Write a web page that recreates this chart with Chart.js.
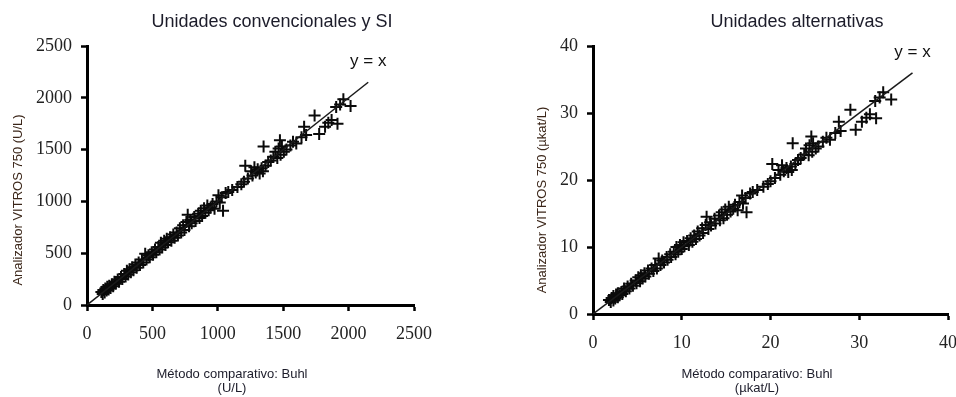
<!DOCTYPE html>
<html>
<head>
<meta charset="utf-8">
<script src="https://cdn.jsdelivr.net/npm/chart.js@4.4.1/dist/chart.umd.min.js"></script>
<style>
  body { margin: 0; background: #fff; }
  .fila { display: flex; width: 956px; height: 397px; }
  canvas { display: block; }
</style>
</head>
<body>
<div class="fila">
  <canvas id="graficoConv" width="478" height="397"></canvas>
  <canvas id="graficoAlt" width="478" height="397"></canvas>
</div>
<script>
// Unidades convencionales y SI (U/L)
const convX = [110,120,125,135,140,150,155,165,170,180,190,200,210,220,235,245,260,270,285,295,
  305,315,325,335,345,355,370,380,395,405,420,430,445,455,470,480,495,505,520,530,
  545,555,565,575,590,600,610,620,635,645,660,670,685,695,710,720,735,745,760,770,
  780,790,800,820,830,850,860,870,880,895,905,920,930,945,960,975,990,1005,1015,1030,
  1040,1060,1080,1110,1150,1180,1200,1210,1230,1255,1265,1280,1290,1305,1320,1335,1345,1350,1365,1385,
  1405,1425,1440,1455,1465,1475,1480,1490,1505,1525,1555,1575,1600,1640,1660,1675,1740,1775,1820,1845,
  1870,1905,1915,1935,1960,2015];
const convY = [125,105,145,120,160,140,175,150,185,165,200,180,225,205,245,225,270,250,300,275,
  330,295,345,315,365,335,390,360,410,385,440,410,495,440,480,460,510,485,535,510,
  560,535,600,555,620,580,640,605,655,620,680,650,700,670,740,700,770,725,800,870,
  760,820,790,850,810,880,840,910,860,935,890,960,915,940,975,930,1000,1060,990,1040,
  910,1080,1090,1110,1140,1165,1190,1345,1220,1290,1250,1330,1280,1310,1270,1320,1290,1530,1345,1380,
  1395,1430,1480,1420,1510,1590,1450,1530,1480,1500,1540,1575,1560,1620,1720,1640,1830,1650,1720,1760,
  1785,1910,1750,1935,1985,1920];
const convTicks = [0, 500, 1000, 1500, 2000, 2500];
const convLinea = [0, 2150];

// Unidades alternativas (µkat/L)
const altX = [1.8,2.0,2.1,2.3,2.3,2.5,2.6,2.8,2.8,3.0,3.2,3.3,3.5,3.7,3.9,4.1,4.3,4.5,4.8,4.9,
  5.1,5.3,5.4,5.6,5.8,5.9,6.2,6.3,6.6,6.8,7.0,7.2,7.4,7.6,7.8,8.0,8.3,8.4,8.7,8.8,
  9.1,9.3,9.4,9.6,9.8,10.0,10.2,10.3,10.6,10.8,11.0,11.2,11.4,11.6,11.8,12.0,12.3,12.4,12.7,12.8,
  13.0,13.2,13.3,13.7,13.8,14.2,14.3,14.5,14.7,14.9,15.1,15.3,15.5,15.8,16.0,16.3,16.5,16.8,16.9,17.2,
  17.3,17.7,18.0,18.5,19.2,19.7,20.0,20.2,20.5,20.9,21.1,21.3,21.5,21.8,22.0,22.3,22.4,22.5,22.8,23.1,
  23.4,23.8,24.0,24.3,24.4,24.6,24.7,24.8,25.1,25.4,25.9,26.3,26.7,27.3,27.7,27.9,29.0,29.6,30.3,30.8,
  31.2,31.8,31.9,32.3,32.7,33.6];
const altY = [2.1,1.8,2.4,2.0,2.7,2.3,2.9,2.5,3.1,2.8,3.3,3.0,3.8,3.4,4.1,3.8,4.5,4.2,5.0,4.6,
  5.5,4.9,5.8,5.3,6.1,5.6,6.5,6.0,6.8,6.4,7.3,6.8,8.3,7.3,8.0,7.7,8.5,8.1,8.9,8.5,
  9.3,8.9,10.0,9.3,10.3,9.7,10.7,10.1,10.9,10.3,11.3,10.8,11.7,11.2,12.3,11.7,12.8,12.1,13.3,14.5,
  12.7,13.7,13.2,14.2,13.5,14.7,14.0,15.2,14.3,15.6,14.8,16.0,15.3,15.7,16.3,15.5,16.7,17.7,16.5,17.3,
  15.2,18.0,18.2,18.5,19.0,19.4,19.8,22.4,20.3,21.5,20.8,22.2,21.3,21.8,21.2,22.0,21.5,25.5,22.4,23.0,
  23.3,23.8,24.7,23.7,25.2,26.5,24.2,25.5,24.7,25.0,25.7,26.3,26.0,27.0,28.7,27.3,30.5,27.5,28.7,29.3,
  29.8,31.8,29.2,32.3,33.1,32.0];
const altTicks = [0, 10, 20, 30, 40];
const altLinea = [0, 36];

const etiquetas = {
    id: 'etiquetas',
    afterDraw(chart, args, opts) {
        const ctx = chart.ctx;
        const xs = chart.scales.x, ys = chart.scales.y;
        ctx.save();
        ctx.textAlign = 'center';
        ctx.textBaseline = 'alphabetic';
        ctx.fillStyle = '#1c1c2a';
        ctx.font = '18px "Liberation Sans", Arial, sans-serif';
        ctx.fillText(opts.titulo, opts.tituloX, 27);

        // y = x junto al final de la recta
        ctx.fillStyle = '#111';
        ctx.font = '17px "Liberation Sans", Arial, sans-serif';
        ctx.fillText('y = x', xs.getPixelForValue(opts.fin), ys.getPixelForValue(opts.fin) - 16);

        ctx.fillStyle = '#1c1c2a';
        ctx.font = '13px "Liberation Sans", Arial, sans-serif';
        ctx.fillText(opts.ejeX[0], opts.ejeXPos, 378);
        ctx.fillText(opts.ejeX[1], opts.ejeXPos, 392);

        ctx.translate(opts.ejeYPos, 200);
        ctx.rotate(-Math.PI / 2);
        ctx.textBaseline = 'middle';
        ctx.fillStyle = '#3b2619';
        ctx.fillText(opts.ejeY, 0, 0);
        ctx.restore();
    }
};

function escala(max, ticks, tam, separacion) {
    return {
        type: 'linear',
        min: 0,
        max: max,
        afterBuildTicks: s => { s.ticks = ticks.map(v => ({ value: v })); },
        afterFit: s => {
            tam(s);
            s.paddingLeft = 0; s.paddingRight = 0;
            s.paddingTop = 0; s.paddingBottom = 0;
        },
        ticks: {
            autoSkip: false,
            maxRotation: 0,
            padding: separacion,
            color: '#222',
            callback: v => String(v),
            font: { family: '"Liberation Serif", "Times New Roman", serif', size: 18 }
        },
        grid: {
            drawOnChartArea: false,
            drawTicks: true,
            tickLength: 6,
            tickWidth: 2.5,
            tickColor: '#000'
        },
        border: { display: true, color: '#000', width: 3 }
    };
}

function crearGrafico(id, xs, ys, linea, ticks, max, pad, ancho, textos) {
    const puntos = xs.map((v, i) => ({ x: v, y: ys[i] }));
    const ctx = document.getElementById(id).getContext('2d');
    return new Chart(ctx, {
        type: 'scatter',
        data: {
            datasets: [
                {
                    data: linea.map(v => ({ x: v, y: v })),
                    showLine: true,
                    borderColor: '#1a1a1a',
                    borderWidth: 1.5,
                    pointRadius: 0
                },
                {
                    data: puntos,
                    pointStyle: 'cross',
                    pointRadius: 6,
                    borderColor: '#0a0a0a',
                    borderWidth: 2,
                    backgroundColor: '#0a0a0a'
                }
            ]
        },
        options: {
            responsive: false,
            animation: false,
            devicePixelRatio: 1,
            layout: { padding: pad },
            scales: {
                x: escala(max, ticks, s => { s.height = 40; }, 12),
                y: escala(max, ticks, s => { s.width = ancho; }, 9)
            },
            plugins: {
                legend: { display: false },
                tooltip: { enabled: false },
                etiquetas: textos
            }
        },
        plugins: [etiquetas]
    });
}

crearGrafico('graficoConv', convX, convY, convLinea, convTicks, 2500,
    { left: 0, right: 64, top: 46, bottom: 52 }, 87,
    { titulo: 'Unidades convencionales y SI', tituloX: 272, fin: convLinea[1],
      ejeX: ['Método comparativo: Buhl', '(U/L)'], ejeXPos: 232,
      ejeY: 'Analizador VITROS 750 (U/L)', ejeYPos: 18 });

crearGrafico('graficoAlt', altX, altY, altLinea, altTicks, 40,
    { left: 0, right: 8, top: 46, bottom: 43 }, 115,
    { titulo: 'Unidades alternativas', tituloX: 319, fin: altLinea[1],
      ejeX: ['Método comparativo: Buhl', '(µkat/L)'], ejeXPos: 279,
      ejeY: 'Analizador VITROS 750 (µkat/L)', ejeYPos: 64 });
</script>
</body>
</html>
